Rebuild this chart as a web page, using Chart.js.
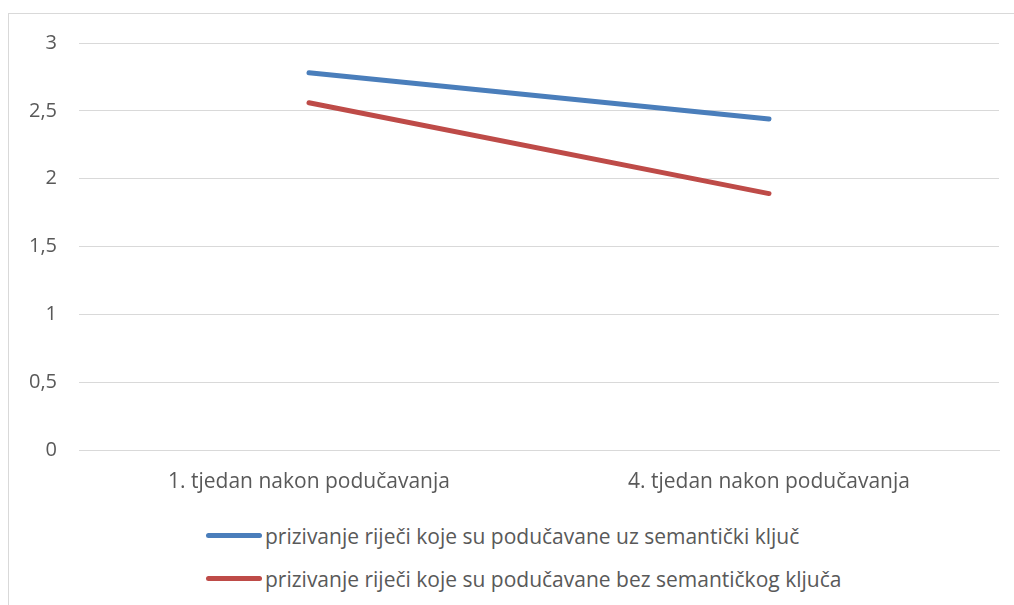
<!DOCTYPE html>
<html lang="hr">
<head>
  <meta charset="UTF-8" />
  <title>Prizivanje riječi</title>
  <style>
    body {
      margin: 0;
      background: #fff;
      font-family: "Open Sans", sans-serif;
      width: 1014px;
      height: 605px;
      overflow: hidden;
      position: relative;
    }
    /* okvir grafikona (desni i donji rub izlaze iz slike) */
    .frame {
      position: absolute;
      left: 8px;
      top: 13px;
      width: 1020px;
      height: 620px;
      border: 1px solid #d9d9d9;
    }
    .chart-box {
      position: absolute;
      left: 0;
      top: 0;
      width: 1014px;
      height: 500px;
    }
    #legend {
      position: absolute;
      left: 206px;
      top: 514px;
      margin: 0;
      padding: 0;
      list-style: none;
    }
    #legend li {
      display: flex;
      align-items: center;
      height: 43px;
      color: #595959;
      font-size: 21px;
    }
    #legend span.swatch {
      display: inline-block;
      width: 56px;
      height: 5px;
      border-radius: 3px;
      margin-right: 3px;
    }
  </style>
  <script src="https://cdn.jsdelivr.net/npm/chart.js"></script>
</head>
<body>
  <div class="frame"></div>
  <div class="chart-box">
    <canvas id="chart"></canvas>
  </div>
  <ul id="legend"></ul>

  <script>
    // podaci
    const categories = ['1. tjedan nakon podučavanja', '4. tjedan nakon podučavanja'];
    const seriesNames = [
      'prizivanje riječi koje su podučavane uz semantički ključ',
      'prizivanje riječi koje su podučavane bez semantičkog ključa'
    ];
    const withKey = [2.78, 2.44];
    const withoutKey = [2.56, 1.89];
    const seriesColors = ['#4a7ebb', '#be4b48'];

    const textColor = '#595959';
    const gridColor = '#d9d9d9';

    const ctx = document.getElementById('chart').getContext('2d');
    const chart = new Chart(ctx, {
      type: 'line',
      data: {
        labels: categories,
        datasets: [
          {
            label: seriesNames[0],
            data: withKey,
            borderColor: seriesColors[0],
            backgroundColor: seriesColors[0],
            borderWidth: 5,
            pointRadius: 0,
            borderCapStyle: 'round',
            fill: false
          },
          {
            label: seriesNames[1],
            data: withoutKey,
            borderColor: seriesColors[1],
            backgroundColor: seriesColors[1],
            borderWidth: 5,
            pointRadius: 0,
            borderCapStyle: 'round',
            fill: false
          }
        ]
      },
      options: {
        responsive: true,
        maintainAspectRatio: false,
        animation: false,
        layout: { padding: { left: 0, right: 15, top: 43, bottom: 0 } },
        plugins: {
          legend: { display: false },
          tooltip: { enabled: false }
        },
        scales: {
          x: {
            offset: true,
            grid: { display: false, drawTicks: false },
            border: { display: true, color: gridColor, width: 1 },
            ticks: {
              color: textColor,
              padding: 19,
              font: { family: '"Open Sans", sans-serif', size: 21 }
            },
            afterFit: (scale) => { scale.height = 50; }
          },
          y: {
            min: 0,
            max: 3,
            grid: { color: gridColor, drawTicks: false, lineWidth: 1 },
            border: { display: false },
            ticks: {
              stepSize: 0.5,
              color: textColor,
              padding: 22,
              font: { family: '"Open Sans", sans-serif', size: 20 },
              callback: (v) => String(v).replace('.', ',')
            },
            afterFit: (scale) => { scale.width = 79; }
          }
        }
      }
    });

    // legenda ispod grafikona
    const legend = document.getElementById('legend');
    chart.data.datasets.forEach((ds) => {
      const li = document.createElement('li');
      const sw = document.createElement('span');
      sw.className = 'swatch';
      sw.style.background = ds.borderColor;
      li.appendChild(sw);
      li.appendChild(document.createTextNode(ds.label));
      legend.appendChild(li);
    });
  </script>
</body>
</html>
